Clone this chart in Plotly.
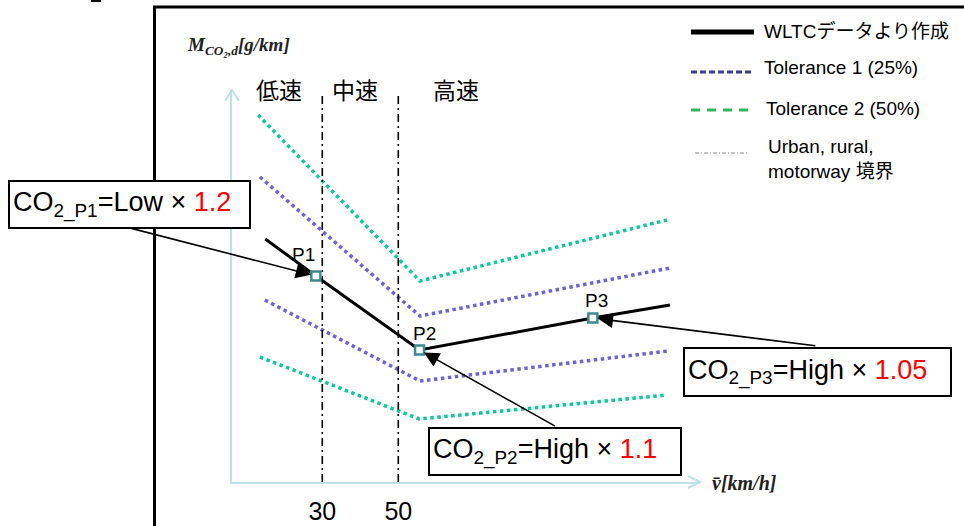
import plotly.graph_objects as go

# ---------------- data ----------------
boundary_speeds = [30, 50]
boundary_labels = ["30", "50"]
region_labels = ["低速", "中速", "高速"]

wltc_speed = [15.0, 28.3, 55.6, 101.2, 121.5]
wltc_co2 = [243, 206, 132, 164, 177]

tol1_up_speed = [13.6, 55.7, 121.5]
tol1_up_co2 = [305, 166, 214]
tol1_lo_speed = [14.9, 55.7, 121.0]
tol1_lo_co2 = [182, 101, 131]

tol2_up_speed = [13.1, 55.7, 120.7]
tol2_up_co2 = [367, 201, 262]
tol2_lo_speed = [13.6, 55.5, 120.7]
tol2_lo_co2 = [125, 63, 87]

point_names = ["P1", "P2", "P3"]
point_speed = [28.3, 55.6, 101.2]
point_co2 = [206, 132, 164]
point_base = ["Low", "High", "High"]
point_factor = ["1.2", "1.1", "1.05"]

legend_labels = ["WLTCデータより作成", "Tolerance 1 (25%)", "Tolerance 2 (50%)",
                 "Urban, rural,<br>motorway 境界"]

# ---------------- layout geometry ----------------
W, H = 964, 526
L, R, T, B = 232, 264, 90, 44
PW, PH = W - L - R, H - T - B


def X(px):
    return (px - L) / PW


def Y(py):
    return (H - B - py) / PH


GREEN = "#0BC99A"
PURPLE = "#6C64D6"
TEAL = "#3B8A8E"
AXIS = "#BCE2E7"
SANS = "Arial, Liberation Sans, Noto Sans CJK JP, sans-serif"
SERIF = "Liberation Serif, DejaVu Serif, serif"

fig = go.Figure()

dotted = dict(width=3.5, dash="dot")
for sx, sy in [(tol2_up_speed, tol2_up_co2), (tol2_lo_speed, tol2_lo_co2)]:
    fig.add_trace(go.Scatter(x=sx, y=sy, mode="lines", showlegend=False,
                             line=dict(color=GREEN, **dotted)))
for sx, sy in [(tol1_up_speed, tol1_up_co2), (tol1_lo_speed, tol1_lo_co2)]:
    fig.add_trace(go.Scatter(x=sx, y=sy, mode="lines", showlegend=False,
                             line=dict(color=PURPLE, **dotted)))

for v in boundary_speeds:
    fig.add_trace(go.Scatter(x=[v, v], y=[0, 390], mode="lines", showlegend=False,
                             line=dict(color="black", width=1.6, dash="8px,4px,2px,4px")))

fig.add_trace(go.Scatter(x=wltc_speed, y=wltc_co2, mode="lines", showlegend=False,
                         line=dict(color="black", width=3)))

fig.add_trace(go.Scatter(x=point_speed, y=point_co2, mode="markers", showlegend=False,
                         marker=dict(symbol="square", size=9, color="white",
                                     line=dict(color=TEAL, width=2.5))))

ann = []
# point labels
shifts = [(-12, 22), (5, 17), (4, 18)]
for n, sx, sy, (dx, dy) in zip(point_names, point_speed, point_co2, shifts):
    ann.append(dict(x=sx, y=sy, xref="x", yref="y", text=n, showarrow=False,
                    xanchor="center", yanchor="middle",
                    xshift=dx, yshift=dy, font=dict(family=SANS, size=19, color="black")))

# callout boxes
boxes = [(8, 180, 247, 49), (428, 427, 258, 49), (683, 347, 273, 50)]
for i, (bx, by, bw, bh) in enumerate(boxes):
    txt = (f"CO<sub>2_{point_names[i]}</sub>={point_base[i]} × "
           f"<span style='color:#ff0000'>{point_factor[i]}</span>")
    ann.append(dict(x=X(bx), y=Y(by), xref="paper", yref="paper", xanchor="left",
                    yanchor="top", text=txt, showarrow=False, align="left",
                    width=bw - 14, height=bh - 10, borderpad=3, borderwidth=2,
                    bordercolor="black", bgcolor="white",
                    font=dict(family=SANS, size=27, color="black")))

# arrows from callouts to points
starts = [(-186, -48), (137, 77), (224, 28)]
for sx, sy, (ax, ay) in zip(point_speed, point_co2, starts):
    ann.append(dict(x=sx, y=sy, xref="x", yref="y", ax=ax, ay=ay, text="",
                    showarrow=True, arrowhead=2, arrowsize=1.9, arrowwidth=1.6,
                    arrowcolor="black", standoff=5))

# region labels
for lab, px in zip(region_labels, [279, 355, 456]):
    ann.append(dict(x=X(px), y=Y(89), xref="paper", yref="paper", text=lab,
                    xanchor="center", yanchor="middle", showarrow=False,
                    font=dict(family="Noto Sans CJK JP", size=23, color="black")))

# axis titles
ann.append(dict(x=X(185), y=Y(46), xref="paper", yref="paper", xanchor="left",
                yanchor="middle", text="<b><i>M<sub>CO₂,d</sub>[g/km]</i></b>",
                showarrow=False, font=dict(family=SERIF, size=19, color="#222")))
ann.append(dict(x=X(710), y=Y(483), xref="paper", yref="paper", xanchor="left",
                yanchor="middle", text="<b><i>v̄[km/h]</i></b>", showarrow=False,
                font=dict(family=SERIF, size=20, color="#222")))

# legend
leg_y = [32, 67, 109, 159]
leg_x = [762, 762, 764, 766]
for lab, ly, lx in zip(legend_labels, leg_y, leg_x):
    ann.append(dict(x=X(lx), y=Y(ly), xref="paper", yref="paper", xanchor="left",
                    yanchor="middle", text=lab, showarrow=False, align="left",
                    font=dict(family=SANS, size=19, color="black")))

shapes = []
# outer frame
shapes.append(dict(type="rect", xref="paper", yref="paper", x0=X(154.5), y0=Y(7),
                   x1=X(990), y1=Y(560), line=dict(color="black", width=3)))
shapes.append(dict(type="rect", xref="paper", yref="paper", x0=X(91), y0=Y(0),
                   x1=X(101), y1=Y(2), line=dict(width=0), fillcolor="black"))
# axis arrowheads
shapes.append(dict(type="path", xref="paper", yref="paper",
                   path=f"M{X(225)},{Y(101)} L{X(232)},{Y(90)} L{X(239)},{Y(101)}",
                   line=dict(color=AXIS, width=2)))
shapes.append(dict(type="path", xref="paper", yref="paper",
                   path=f"M{X(688)},{Y(476)} L{X(700)},{Y(482)} L{X(688)},{Y(488)}",
                   line=dict(color=AXIS, width=2)))
# legend samples
shapes.append(dict(type="line", xref="paper", yref="paper", x0=X(691), x1=X(754),
                   y0=Y(32), y1=Y(32), line=dict(color="black", width=5)))
shapes.append(dict(type="line", xref="paper", yref="paper", x0=X(691), x1=X(753),
                   y0=Y(72), y1=Y(72), line=dict(color="#3A3A94", width=3, dash="6px,3px")))
shapes.append(dict(type="line", xref="paper", yref="paper", x0=X(691), x1=X(753),
                   y0=Y(110), y1=Y(110), line=dict(color="#2DB85C", width=3, dash="9px,7px")))
shapes.append(dict(type="line", xref="paper", yref="paper", x0=X(695), x1=X(748),
                   y0=Y(153), y1=Y(153), line=dict(color="#888888", width=1, dash="4px,2px,1px,2px")))

fig.update_layout(
    width=W, height=H, margin=dict(l=L, r=R, t=T, b=B, autoexpand=False),
    paper_bgcolor="white", plot_bgcolor="white", showlegend=False,
    annotations=ann, shapes=shapes,
    xaxis=dict(range=[6.24, 129.4], showline=True, linecolor=AXIS, linewidth=2,
               showgrid=False, zeroline=False, tickvals=boundary_speeds,
               ticktext=boundary_labels, ticks="outside", ticklen=6,
               tickcolor="rgba(0,0,0,0)", tickfont=dict(family=SANS, size=25, color="black")),
    yaxis=dict(range=[0, 392], showline=True, linecolor=AXIS, linewidth=2,
               showgrid=False, zeroline=False, showticklabels=False, ticks=""),
)

fig.write_html("out.html", config={"displayModeBar": False},
               post_script="document.body.style.margin='0';document.body.style.overflow='hidden';")
